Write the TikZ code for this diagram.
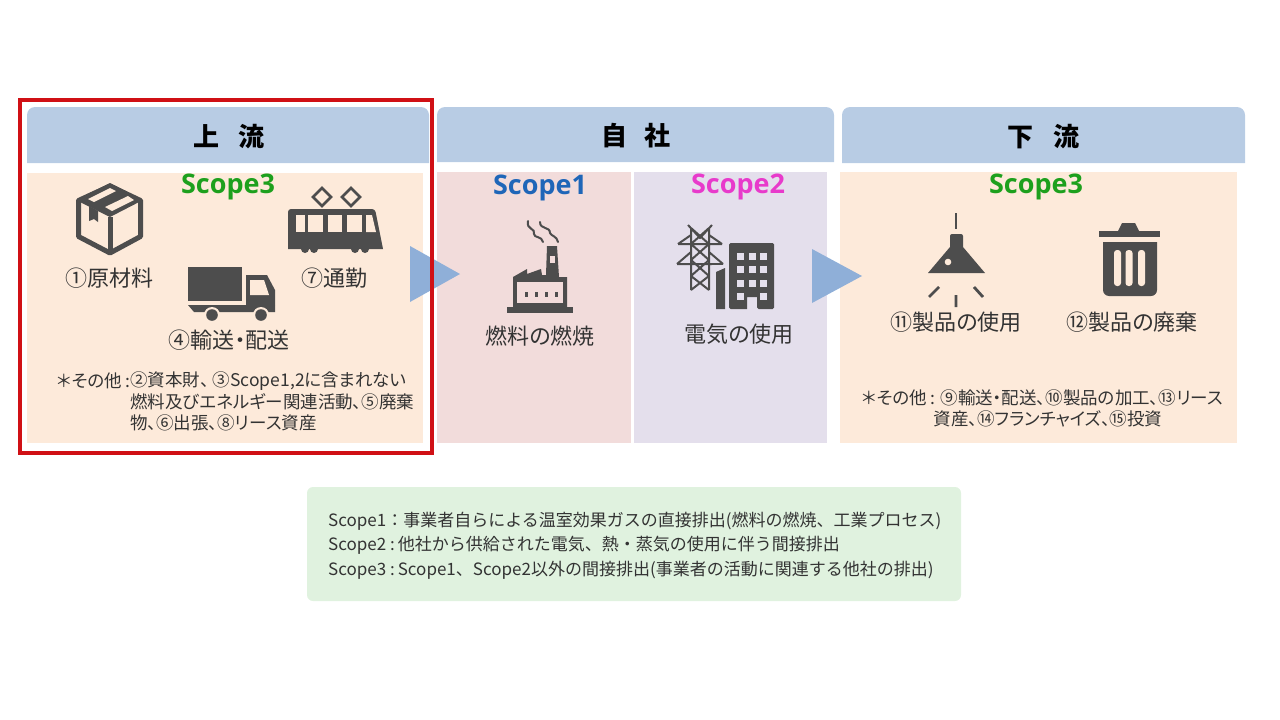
\documentclass[tikz,border=0pt]{standalone}
\usepackage{fontspec}
\setmainfont{Noto Sans CJK JP}
\newfontfamily\palfont[RawFeature=+palt]{Noto Sans CJK JP}
\newfontfamily\scopefont{Open Sans}
\usepackage{tikz}
\usetikzlibrary{positioning}
\usepackage{xcolor}
\definecolor{HeadBlue}{HTML}{B8CCE4}
\definecolor{ArrowBlue}{HTML}{8FAFD8}
\definecolor{Peach}{HTML}{FDEADA}
\definecolor{RosePanel}{HTML}{F2DCDB}
\definecolor{LilacPanel}{HTML}{E4DFEC}
\definecolor{MintBox}{HTML}{E0F2DF}
\definecolor{FrameRed}{HTML}{D01015}
\definecolor{IconGray}{HTML}{4D4D4D}
\definecolor{TextGray}{HTML}{333333}
\definecolor{ScopeGreen}{HTML}{1DA01D}
\definecolor{ScopeBlue}{HTML}{1F66B8}
\definecolor{ScopeMagenta}{HTML}{E83ACB}
\tikzset{
  headlabel/.style={inner sep=0pt,font=\bfseries\fontsize{26}{30}\selectfont},
  scopelabel/.style={inner sep=0pt,font=\scopefont\bfseries\fontsize{27}{32}\selectfont},
  itemlabel/.style={inner sep=0pt,text=TextGray,font=\palfont\fontsize{22}{26}\selectfont},
  notelabel/.style={inner sep=0pt,anchor=west,text=TextGray,font=\palfont\fontsize{17.5}{21}\selectfont},
  legendlabel/.style={inner sep=0pt,anchor=west,text=TextGray,font=\fontsize{17}{21}\selectfont},
}
\begin{document}
\begin{tikzpicture}[x=1pt,y=-1pt]
  \useasboundingbox (0,0) rectangle (1280,720);
  % header bands
  \foreach \xa/\xb/\yb in {27/429/163,437/834/162,842/1245/163}{
    \fill[HeadBlue] (\xa,\yb) [rounded corners=8pt] -- (\xa,107) -- (\xb,107) [sharp corners] -- (\xb,\yb) -- cycle;
  }
  \node[headlabel] (headup) at (229,137) {上\hspace{20pt}流};
  \node[headlabel] (headown) at (636,136) {自\hspace{18pt}社};
  \node[headlabel] (headdown) at (1043,137) {下\hspace{20pt}流};
  % panels
  \fill[Peach] (27,173) rectangle (423,443);
  \fill[RosePanel] (437,172) rectangle (631,443);
  \fill[LilacPanel] (634,172) rectangle (827,443);
  \fill[Peach] (840,172) rectangle (1237,443);
  % arrows between panels
  \fill[ArrowBlue] (410,246) -- (460,274) -- (410,302) -- cycle;
  \fill[ArrowBlue] (812,249) -- (862,276) -- (812,303) -- cycle;
  \draw[FrameRed,line width=3.6pt] (20,100) rectangle (432,453);
  % scope titles
  \node[scopelabel,text=ScopeGreen] (scopeup) at (228,187) {Scope3};
  \node[scopelabel,text=ScopeBlue] (scopeone) at (540,188) {Scope1};
  \node[scopelabel,text=ScopeMagenta] (scopetwo) at (738,187) {Scope2};
  \node[scopelabel,text=ScopeGreen] (scopedown) at (1036,187) {Scope3};
  % box
  \fill[IconGray] (110,183) -- (143,200) -- (110,217) -- (76,200) -- cycle;
  \draw[IconGray,line width=5pt,line join=round] (110,186) -- (140.5,200.5) -- (140.5,236.5) -- (110,253) -- (78.5,236.5) -- (78.5,200.5) -- cycle;
  \draw[IconGray,line width=5pt] (110,217) -- (110,253);
  \fill[Peach] (88,199) -- (110,188) -- (116,191) -- (94,202) -- cycle;
  \fill[Peach] (105,207) -- (128,196) -- (134,200) -- (112,211) -- cycle;
  \fill[IconGray] (89,206) -- (98,211) -- (98,222) -- (94,219) -- (89,221) -- cycle;
  % train
  \draw[IconGray,line width=2.6pt] (322,188) -- (331,197) -- (322,206) -- (313,197) -- cycle;
  \draw[IconGray,line width=2.6pt] (351,188) -- (360,197) -- (351,206) -- (342,197) -- cycle;
  \fill[IconGray] (288,249) [rounded corners=3pt] -- (288,209) -- (375,209) [sharp corners] -- (383,249) -- cycle;
  \foreach \xa/\xb in {296/304.5,308/323,328/342,347/362}{
    \fill[Peach] (\xa,215) rectangle (\xb,232);
  }
  \fill[Peach] (366,215) -- (372,215) -- (376,232) -- (366,232) -- cycle;
  \foreach \c in {305,314,355,365}{
    \fill[IconGray] (\c,249) circle (4);
  }
  % truck
  \fill[IconGray] (188,267) rectangle (242,301);
  \fill[IconGray] (246,275) -- (267,275) -- (275,290) -- (275,305) -- (246,305) -- cycle;
  \fill[Peach] (250,280) -- (264,280) -- (269,295) -- (250,295) -- cycle;
  \fill[IconGray] (188,305) -- (275,305) -- (275,312) -- (194,312) -- cycle;
  \foreach \c in {212,261}{
    \fill[Peach] (\c,315) circle (8);
    \fill[IconGray] (\c,315) circle (5.8);
  }
  % factory
  \draw[IconGray,line width=2pt,line cap=round] (528,221) .. controls (526,230) and (536,228) .. (534,234) .. controls (534,238) and (542,236) .. (543,242);
  \draw[IconGray,line width=2pt,line cap=round] (540,222) .. controls (540,230) and (550,226) .. (550,233) .. controls (551,236) and (557,236) .. (558,242);
  \fill[IconGray] (507,307) rectangle (573,313);
  \fill[IconGray] (513,307) -- (513,277) -- (527,269) -- (527,274) -- (541,269) -- (542,275) -- (546,275) -- (547,246) -- (557,246) -- (559,277) -- (567,277) -- (567,307) -- cycle;
  \fill[RosePanel] (517,282) rectangle (563,303);
  \fill[RosePanel] (549.5,256) rectangle (554.5,263);
  \foreach \c in {525,535,545,555}{
    \fill[IconGray] (\c,292) rectangle ++(2.5,5);
  }
  % pylon and building
  \draw[IconGray,line width=2pt,line join=round] (688,225) -- (700,238) -- (712,225) (691,228) -- (709,244) -- (691,260) -- (709,276) -- (691,290) (709,228) -- (691,244) -- (709,260) -- (691,276) -- (709,290)
    (691,228) -- (691,290) (709,228) -- (709,290)
    (678,244) -- (722,244) (678,244) -- (691,235) (722,244) -- (709,235)
    (677,264) -- (723,264) (677,264) -- (691,252) (723,264) -- (709,252);
  \fill[LilacPanel] (712,265) rectangle (728,310);
  \fill[IconGray] (716,272) -- (725,268) -- (725,309) -- (716,309) -- cycle;
  \fill[IconGray] (729,243) [rounded corners=1.5pt] -- (774,243) -- (774,309) -- (757,309) [sharp corners] -- (757,297) -- (747,297) -- (747,309) [rounded corners=1.5pt] -- (729,309) -- cycle;
  \foreach \c in {740,752,763}{
    \foreach \r in {256,269,283}{
      \fill[LilacPanel] (\c-3.5,\r-3.5) rectangle ++(7,7);
    }
  }
  \foreach \c in {740,763}{
    \fill[LilacPanel] (\c-3.5,292.5) rectangle ++(7,7);
  }
  % lamp
  \draw[IconGray,line width=2.6pt] (956,213) -- (956,229);
  \fill[IconGray] (950,237) [rounded corners=2pt] -- (950,234) -- (963,234) [sharp corners] -- (963,247) -- (985,273) -- (928,273) -- (950,247) -- cycle;
  \fill[Peach] (948,262) circle (3.3);
  \draw[IconGray,line width=2.8pt] (956,295) -- (956,307) (929,297) -- (939,287) (983,297) -- (974,287);
  % trash can
  \fill[IconGray] (1118,231) -- (1122,223) -- (1135,223) -- (1139,231) -- cycle;
  \fill[IconGray] (1099,231) rectangle (1160,237);
  \fill[IconGray] (1103,242) -- (1157,242) [rounded corners=6pt] -- (1157,296) -- (1103,296) [sharp corners] -- cycle;
  \foreach \xa in {1114,1125.5,1138}{
    \fill[Peach,rounded corners=3pt] (\xa,250) rectangle ++(7,36);
  }
  % item labels
  \node[itemlabel] (itemone) at (109,278) {①原材料};
  \node[itemlabel] (itemseven) at (334,278) {⑦通勤};
  \node[itemlabel] (itemfour) at (229,340) {④輸送・配送};
  \node[itemlabel] (fuel) at (540,336) {燃料の燃焼};
  \node[itemlabel] (power) at (739,334) {電気の使用};
  \node[itemlabel] (itemeleven) at (956,322) {⑪製品の使用};
  \node[itemlabel] (itemtwelve) at (1132,322) {⑫製品の廃棄};
  % notes
  \node[notelabel] (notelead) at (57,381) {＊その他 :};
  \node[notelabel] (notea) at (130,381) {②資本財、 ③Scope1,2に含まれない};
  \node[notelabel] (noteb) at (130,402) {燃料及びエネルギー関連活動、⑤廃棄};
  \node[notelabel] (notec) at (130,423) {物、⑥出張、⑧リース資産};
  \node[notelabel] (noted) at (862,398) {＊その他 : ⑨輸送・配送、⑩製品の加工、⑬リース};
  \node[notelabel,anchor=center] (notee) at (1048,419) {資産、⑭フランチャイズ、⑮投資};
  % legend
  \fill[MintBox,rounded corners=6pt] (307,487) rectangle (961,601);
  \node[legendlabel] (legendone) at (328,521) {Scope1：事業者自らによる温室効果ガスの直接排出(燃料の燃焼、工業プロセス)};
  \node[legendlabel] (legendtwo) at (328,545) {Scope2 :\hspace{3pt}他社から供給された電気、熱・蒸気の使用に伴う間接排出};
  \node[legendlabel] (legendthree) at (328,570) {Scope3 :\hspace{3pt}Scope1、Scope2以外の間接排出(事業者の活動に関連する他社の排出)};
\end{tikzpicture}
\end{document}
